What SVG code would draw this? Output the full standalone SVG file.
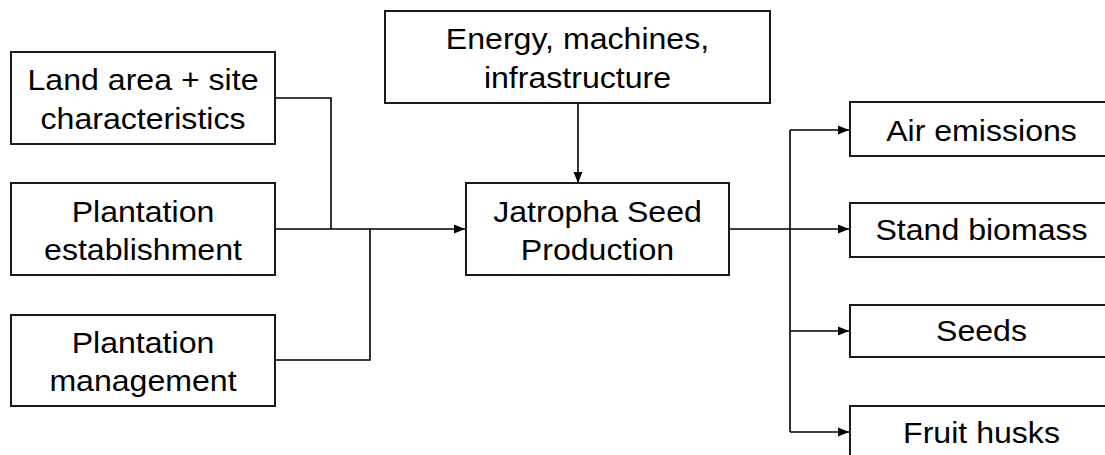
<svg xmlns="http://www.w3.org/2000/svg" width="1105" height="455" viewBox="0 0 1105 455">
<defs>
<style>
.box{fill:#fff;stroke:#1a1a1a;stroke-width:2}
.lbl{font-family:"Liberation Sans",Arial,sans-serif;font-size:30px;fill:#000;text-anchor:middle}
.ln{fill:none;stroke:#000;stroke-width:1.6}
</style>
<marker id="ah" markerUnits="userSpaceOnUse" markerWidth="12" markerHeight="10" refX="11" refY="5" orient="auto">
<path d="M0,0.5 L11,5 L0,9.5 z" fill="#000"/>
</marker>
</defs>
<rect width="1105" height="455" fill="#fff"/>
<g id="connectors">
<polyline class="ln" points="275,98 331,98 331,229"/>
<polyline class="ln" points="275,360 370,360 370,229"/>
<line class="ln" x1="275" y1="229" x2="465" y2="229" marker-end="url(#ah)"/>
<line class="ln" x1="578" y1="103" x2="578" y2="183" marker-end="url(#ah)"/>
<line class="ln" x1="729" y1="229" x2="849" y2="229" marker-end="url(#ah)"/>
<line class="ln" x1="790" y1="130" x2="790" y2="432"/>
<line class="ln" x1="790" y1="130" x2="849" y2="130" marker-end="url(#ah)"/>
<line class="ln" x1="790" y1="331" x2="849" y2="331" marker-end="url(#ah)"/>
<line class="ln" x1="790" y1="432" x2="849" y2="432" marker-end="url(#ah)"/>
</g>
<g id="land">
<rect class="box" x="11" y="52" width="264" height="92"/>
<text class="lbl" transform="translate(143,90) scale(1.07,1)">Land area + site</text>
<text class="lbl" transform="translate(143,129) scale(1.07,1)">characteristics</text>
</g>
<g id="establishment">
<rect class="box" x="11" y="183" width="264" height="92"/>
<text class="lbl" transform="translate(143,221.5) scale(1.07,1)">Plantation</text>
<text class="lbl" transform="translate(143,260) scale(1.07,1)">establishment</text>
</g>
<g id="management">
<rect class="box" x="11" y="315" width="264" height="91"/>
<text class="lbl" transform="translate(143,353) scale(1.07,1)">Plantation</text>
<text class="lbl" transform="translate(143,391) scale(1.07,1)">management</text>
</g>
<g id="energy">
<rect class="box" x="385" y="11" width="385" height="92"/>
<text class="lbl" transform="translate(577.5,48.5) scale(1.07,1)">Energy, machines,</text>
<text class="lbl" transform="translate(577.5,88) scale(1.07,1)">infrastructure</text>
</g>
<g id="jatropha">
<rect class="box" x="466" y="183" width="263" height="92"/>
<text class="lbl" transform="translate(597.5,221.5) scale(1.07,1)">Jatropha Seed</text>
<text class="lbl" transform="translate(597.5,260) scale(1.07,1)">Production</text>
</g>
<g id="air">
<rect class="box" x="850" y="102" width="263" height="54"/>
<text class="lbl" transform="translate(981.5,140.5) scale(1.07,1)">Air emissions</text>
</g>
<g id="stand">
<rect class="box" x="850" y="203" width="263" height="54"/>
<text class="lbl" transform="translate(981.5,240) scale(1.07,1)">Stand biomass</text>
</g>
<g id="seeds">
<rect class="box" x="850" y="305" width="263" height="52"/>
<text class="lbl" transform="translate(981.5,340.5) scale(1.07,1)">Seeds</text>
</g>
<g id="husks">
<rect class="box" x="850" y="406" width="263" height="60"/>
<text class="lbl" transform="translate(981.5,443) scale(1.07,1)">Fruit husks</text>
</g>
</svg>
